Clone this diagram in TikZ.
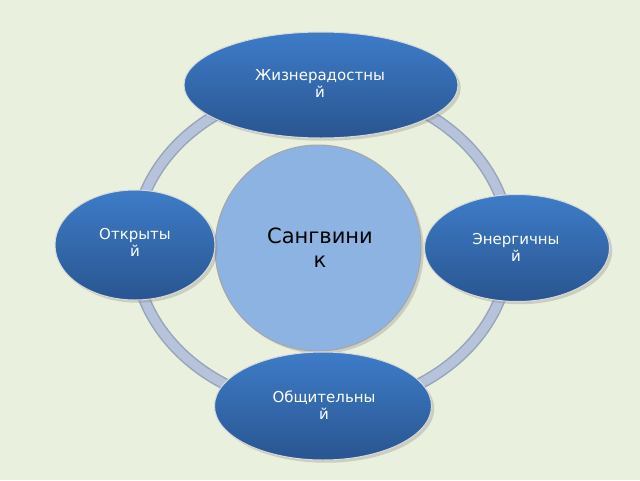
\documentclass[tikz,border=0pt]{standalone}
\usepackage{fontspec}
\setmainfont{DejaVu Sans}
\usetikzlibrary{shapes.geometric,shadows}
\definecolor{bgc}{HTML}{EAF0DE}
\definecolor{ringc}{HTML}{B7C3DB}
\definecolor{ringe}{HTML}{98A4BC}
\definecolor{topc}{HTML}{3E7CC8}
\definecolor{botc}{HTML}{295590}
\definecolor{midc}{HTML}{8DB3E2}
\tikzset{
  petal/.style={ellipse, draw=white!70!gray, line width=1pt, top color=topc, bottom color=botc, drop shadow={opacity=0.3}},
  petaltext/.style={text=white, font=\fontsize{15}{17}\selectfont, align=center, inner sep=0pt}
}
\begin{document}
\begin{tikzpicture}[x=1pt,y=-1pt]
  \fill [bgc] (0,0) rectangle (640,480);
  % ring
  \draw [ringe, line width=12pt] (322,247) ellipse [x radius=188, y radius=160];
  \draw [ringc, line width=9pt] (322,247) ellipse [x radius=188, y radius=160];
  % centre
  \node (core) [circle, draw=gray!70, line width=1pt, fill=midc, minimum size=206pt, drop shadow={opacity=0.3}] at (318,248) {};
  \node (coretext) [font=\fontsize{21}{24}\selectfont, align=center, inner sep=0pt] at (320,248) {Сангвини\\к};
  % petals
  \node (top) [petal, minimum width=274pt, minimum height=106pt] at (321,85) {};
  \node (left) [petal, minimum width=160pt, minimum height=110pt] at (135,245) {};
  \node (right) [petal, minimum width=185pt, minimum height=107pt] at (517,248) {};
  \node (bottom) [petal, minimum width=217pt, minimum height=108pt] at (323,406) {};
  \node (toptext) [petaltext] at (320,84) {Жизнерадостны\\й};
  \node (lefttext) [petaltext] at (135,242) {Открыты\\й};
  \node (righttext) [petaltext] at (516,247) {Энергичны\\й};
  \node (bottomtext) [petaltext] at (324,405) {Общительны\\й};
\end{tikzpicture}
\end{document}
